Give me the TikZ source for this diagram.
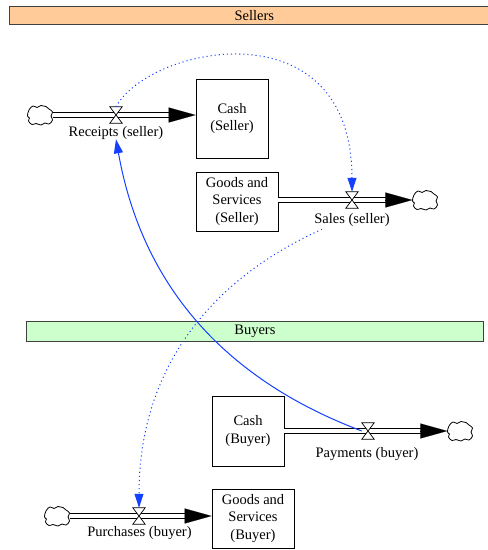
\documentclass[tikz,border=0pt]{standalone}
\usepackage{fontspec}
\setmainfont{Liberation Serif}
\usetikzlibrary{arrows.meta,calc}
\definecolor{sellerbar}{RGB}{255,204,153}
\definecolor{buyerbar}{RGB}{204,255,204}
\definecolor{infoblue}{RGB}{20,64,255}
\newcommand{\drawcloud}[1]{%
  \begin{scope}[shift={(#1)}]
    \draw[cloudshape] plot[smooth cycle, tension=0.75] coordinates {
      (-12.5,1) (-11,-5) (-7,-9) (-3,-7.5) (1,-9.5) (6,-8.5) (9,-6) (12.5,-3)
      (11,1) (12.5,5) (9,9) (5,8) (1,10) (-4,8.5) (-8,9.5) (-11.5,6) (-10.5,3)};
  \end{scope}}
\newcommand{\drawvalve}[1]{%
  \draw[valvedraw] (#1.north west) -- (#1.north east) -- (#1.south west) -- (#1.south east) -- cycle;}
\begin{document}
\begin{tikzpicture}[x=1pt,y=-1pt,
  txt/.style={font=\fontsize{14.5}{17.5}\selectfont},
  stock/.style={txt, draw=black, line width=0.8pt, fill=white, align=center, inner sep=0pt},
  bar/.style={txt, draw=black!75, line width=0.8pt, inner sep=0pt, anchor=north west},
  lbl/.style={txt, inner sep=0pt, anchor=base},
  valve/.style={inner sep=0pt, minimum width=12pt, minimum height=16pt},
  cloudnode/.style={inner sep=0pt, minimum width=25pt, minimum height=20pt},
  valvedraw/.style={draw=black, fill=white, line width=0.7pt, line join=miter},
  pipe/.style={draw=black, line width=5.4pt, postaction={draw=white, line width=3.2pt}},
  flowhead/.style={-{Triangle[length=27pt,width=15pt]}, line width=0.1pt, black},
  info/.style={draw=infoblue, line width=1pt, -{Triangle[length=14pt,width=9pt]}},
  dots/.style={dash pattern=on 1.1pt off 3pt},
  cloudshape/.style={draw=black, fill=white, line width=0.8pt},
]
\useasboundingbox (0,0) rectangle (488,550);
\clip (0,0) rectangle (488,550);
\fill[white] (0,0) rectangle (488,550);

% sector bars
\node[bar, fill=sellerbar, minimum width=490pt, minimum height=18pt] (sellers) at (9,6) {Sellers};
\node[bar, fill=buyerbar, minimum width=457pt, minimum height=20pt] (buyers) at (26,321) {Buyers};

% stocks
\node[stock, minimum width=72pt, minimum height=79pt] (cashS) at (232,118.5) {Cash\\(Seller)};
\node[stock, minimum width=82pt, minimum height=59pt] (goodsS) at (237,201.5) {Goods and\\Services\\(Seller)};
\node[stock, minimum width=72pt, minimum height=70pt] (cashB) at (248,431) {Cash\\(Buyer)};
\node[stock, minimum width=82pt, minimum height=59pt] (goodsB) at (253,518.5) {Goods and\\Services\\(Buyer)};

% clouds
\node[cloudnode] (cR) at (40,115) {};
\node[cloudnode] (cS) at (425,200) {};
\node[cloudnode] (cP) at (460,431) {};
\node[cloudnode] (cPu) at (57,516) {};

% valves
\node[valve] (vR) at (116,115) {};
\node[valve] (vS) at (352,200) {};
\node[valve] (vP) at (368,431) {};
\node[valve] (vPu) at (139,516) {};

% pipes
\draw[pipe] (cR.east) -- ($(cR.east -| cashS.west)+(-20,0)$);
\draw[flowhead] ($(cR.east -| cashS.west)+(-27,0)$) -- (cR.east -| cashS.west);
\draw[pipe] (cS.west -| goodsS.east) -- ($(cS.west)+(-20,0)$);
\draw[flowhead] ($(cS.west)+(-27,0)$) -- (cS.west);
\draw[pipe] (cP.west -| cashB.east) -- ($(cP.west)+(-20,0)$);
\draw[flowhead] ($(cP.west)+(-27,0)$) -- (cP.west);
\draw[pipe] (cPu.east) -- ($(cPu.east -| goodsB.west)+(-20,0)$);
\draw[flowhead] ($(cPu.east -| goodsB.west)+(-27,0)$) -- (cPu.east -| goodsB.west);

\drawcloud{cR}
\drawcloud{cS}
\drawcloud{cP}
\drawcloud{cPu}
\drawvalve{vR}
\drawvalve{vS}
\drawvalve{vP}
\drawvalve{vPu}

% flow labels
\node[lbl] (lR) at (116,136) {Receipts (seller)};
\node[lbl] (lS) at (352,223) {Sales (seller)};
\node[lbl] (lP) at (367,457) {Payments (buyer)};
\node[lbl] (lPu) at (139.5,536) {Purchases (buyer)};

% information links
\draw[info, dots] (vR.north) .. controls (150,45) and (352,5) .. (vS.north);
\draw[info, dots] ($(lS.south)+(-30,3)$) .. controls (220,275) and (139,360) .. (vPu.north);
\draw[info] (vP.west) .. controls (280,400) and (150,330) .. (lR.south);
\end{tikzpicture}
\end{document}
